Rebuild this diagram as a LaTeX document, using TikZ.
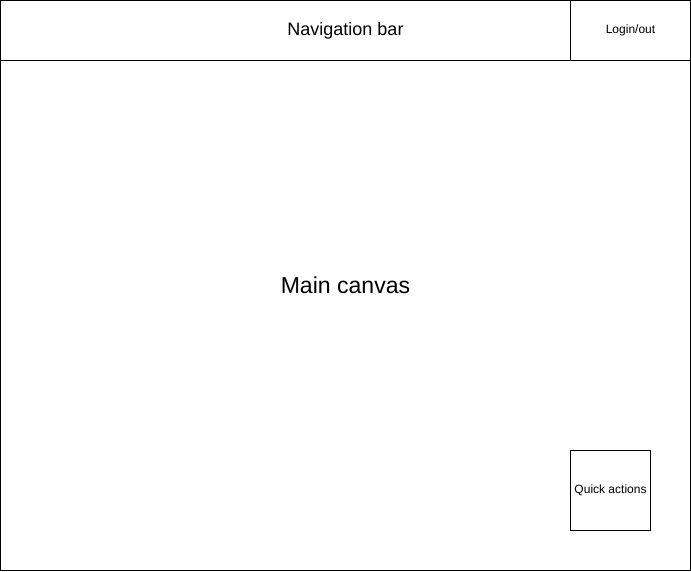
\documentclass[tikz,border=0pt]{standalone}
\usepackage{fontspec}
\setmainfont{Liberation Sans}
\usetikzlibrary{positioning}
\tikzstyle{panel} = [rectangle, inner sep=0pt, outer sep=0pt, text centered, draw=black, line width=0.75pt]
\tikzstyle{smalltext} = [font=\fontsize{9pt}{11pt}\selectfont]

\begin{document}
\begin{tikzpicture}[x=0.75pt, y=-0.75pt]
        \useasboundingbox (0,0) rectangle (691,571);
        \node (canvas) [panel, minimum width=517.5pt, minimum height=427.5pt, font=\fontsize{17.3pt}{20pt}\selectfont] at (345.5,285.5) {Main canvas};
        \node (nav) [panel, minimum width=517.5pt, minimum height=45pt, font=\fontsize{13.5pt}{16pt}\selectfont] at (345.5,30.5) {Navigation bar};
        \node (login) [panel, smalltext, fill=white, minimum width=90pt, minimum height=45pt] at (630.5,30.5) {Login/out};
        \node (quick) [panel, smalltext, minimum width=60pt, minimum height=60pt] at (610.5,490.5) {Quick actions};
    \end{tikzpicture}
\end{document}
